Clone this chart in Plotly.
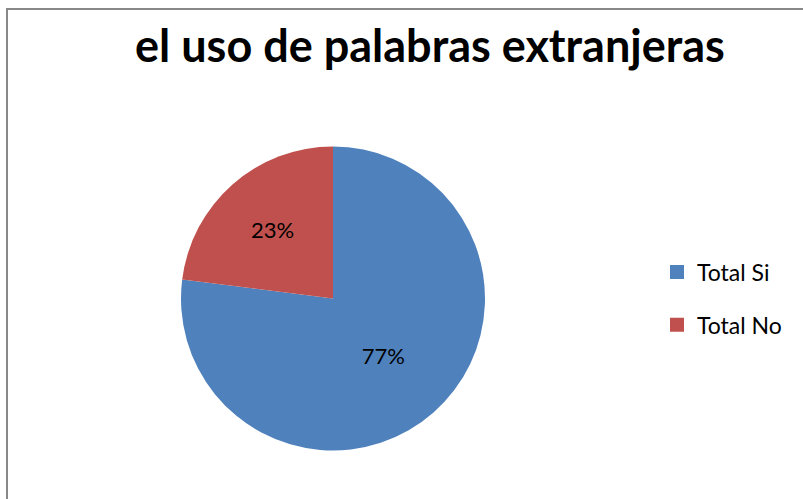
import plotly.graph_objects as go

labels = ["Total Si", "Total No"]
values = [77, 23]
colors = ["#4F81BD", "#C0504D"]
title = "el uso de palabras extranjeras"

W, H = 803, 499
cx, cy, r = 333, 298.5, 152

fig = go.Figure()
fig.add_trace(go.Pie(
    labels=labels, values=values, sort=False, direction="clockwise", rotation=0,
    marker=dict(colors=colors, line=dict(width=0)),
    textinfo="percent", texttemplate="%{percent:.0%}", textposition="inside",
    insidetextorientation="horizontal",
    textfont=dict(family="Lato", size=22, color="#000000"),
    showlegend=False, hoverinfo="label+percent",
    domain=dict(x=[(cx - r) / W, (cx + r) / W], y=[1 - (cy + r) / H, 1 - (cy - r) / H]),
))
for lab, col in zip(labels, colors):
    fig.add_trace(go.Scatter(
        x=[None], y=[None], mode="markers", name=lab, legendgroup=lab,
        marker=dict(symbol="square", size=14, color=col),
    ))

fig.update_layout(
    width=W, height=H, margin=dict(l=0, r=0, t=0, b=0),
    paper_bgcolor="white", plot_bgcolor="white",
    xaxis=dict(visible=False), yaxis=dict(visible=False),
    title=dict(text="<b>" + title + "</b>", x=430 / W, xanchor="center",
               y=1 - 46 / H, yanchor="middle",
               font=dict(family="Lato", size=45, color="#000000")),
    legend=dict(x=657 / W, xanchor="left", y=1 - 298.5 / H, yanchor="middle",
                font=dict(family="Lato", size=23, color="#000000"),
                tracegroupgap=20, bgcolor="rgba(0,0,0,0)"),
    shapes=[dict(type="rect", xref="paper", yref="paper",
                 x0=7 / W, x1=1.05, y0=-0.05, y1=1 - 9 / H,
                 line=dict(color="#888888", width=2), fillcolor="rgba(0,0,0,0)")],
)
fig.write_html("out.html")
